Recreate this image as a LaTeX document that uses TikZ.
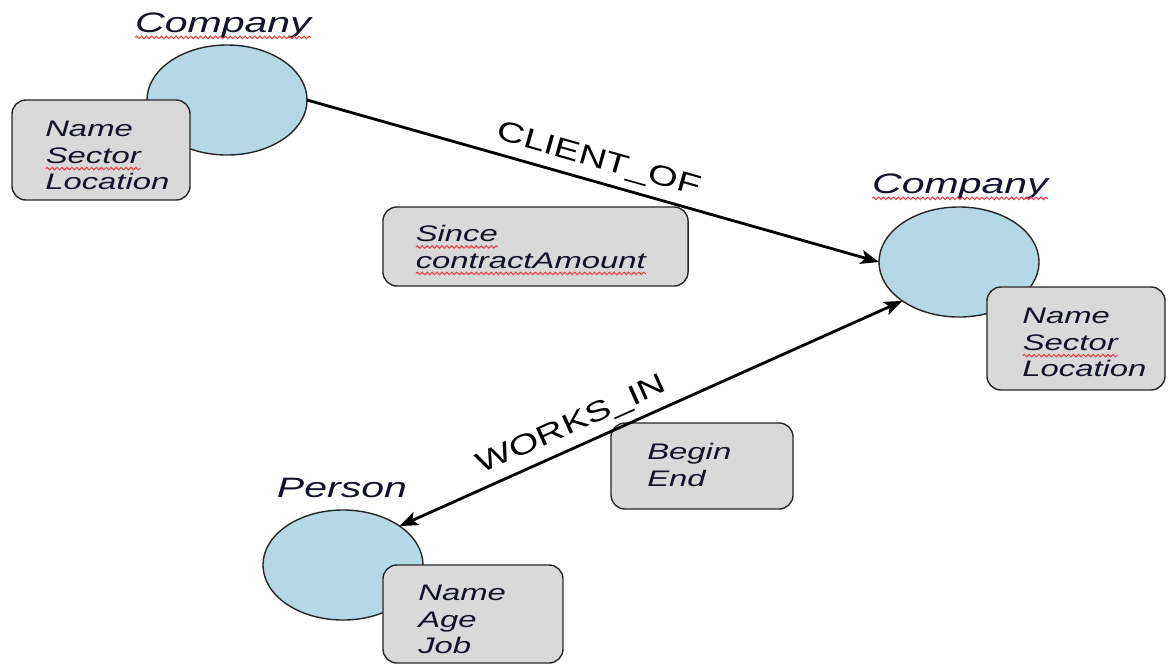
\documentclass[tikz,border=0pt]{standalone}
\usepackage{fontspec}
\setmainfont{Liberation Sans}[FakeStretch=1.46]
\newfontfamily\relfont{Liberation Sans}[FakeStretch=1.36]
\usepackage{tikz}
\usetikzlibrary{arrows.meta, shapes.geometric, positioning, decorations.pathmorphing}

\definecolor{entblue}{HTML}{B5D8E6}
\definecolor{boxgray}{HTML}{D9D9D9}
\definecolor{linegray}{HTML}{262626}
\definecolor{inkblue}{HTML}{121228}
\definecolor{spellred}{HTML}{EE3B3B}

% red wavy spell-check underline
\newcommand\spellwave[1]{\tikz[baseline=(w.base)]{%
    \node[inner sep=0pt, outer sep=0pt] (w) {#1};
    \draw[spellred, line width=0.7pt, decorate, decoration={snake, amplitude=0.9pt, segment length=3.5pt}]
        ([yshift=-3.8pt]w.base west) -- ([yshift=-3.8pt]w.base east);}}

\begin{document}
\begin{tikzpicture}[
    x=0.025cm, y=-0.025cm,
    >={Stealth[length=13pt, width=10pt, inset=3pt]}, % arrow tips
    entity/.style={ellipse, draw=linegray, line width=1pt, fill=entblue,
        minimum width=4cm, minimum height=2.75cm, inner sep=0pt, outer sep=0pt},
    entname/.style={font=\fontsize{20}{24}\selectfont\itshape, text=inkblue, inner sep=0pt, anchor=base},
    attrbox/.style={draw=linegray, line width=1pt, fill=boxgray, rounded corners=0.35cm, inner sep=0pt},
    attrtext/.style={font=\fontsize{16}{18.85}\selectfont\itshape, text=inkblue, align=left,
        inner sep=0pt, anchor=north west},
    rel/.style={->, line width=2pt},
    rellabel/.style={font=\relfont\fontsize{20}{24}\selectfont, sloped, above=5pt, inner sep=0pt}
]
\useasboundingbox (0,0) rectangle (1168,666);

% Entities
\node[entity] (comp1) at (227,100) {};
\node[entity] (comp2) at (959,262) {};
\node[entity] (pers) at (343,565) {};

% Entity names
\node[entname] (comp1name) at (223,32) {\spellwave{Company}};
\node[entname] (comp2name) at (960,193) {\spellwave{Company}};
\node[entname] (persname) at (342,497) {Person};

% Attribute boxes
\node[attrbox, minimum width=4.45cm, minimum height=2.5cm] (comp1box) at (101,150) {};
\node[attrbox, minimum width=4.45cm, minimum height=2.575cm] (comp2box) at (1076,338.5) {};
\node[attrbox, minimum width=7.625cm, minimum height=1.975cm] (clientbox) at (535.5,246.5) {};
\node[attrbox, minimum width=4.55cm, minimum height=2.15cm] (worksbox) at (702,466) {};
\node[attrbox, minimum width=4.5cm, minimum height=2.45cm] (persbox) at (473,614) {};

% Attribute texts
\node[attrtext] (comp1attr) at (45,121) {Name\\\spellwave{Sector}\\Location};
\node[attrtext] (comp2attr) at (1022,308) {Name\\\spellwave{Sector}\\Location};
\node[attrtext] (clientattr) at (415,225) {\spellwave{Since}\\\spellwave{contractAmount}};
\node[attrtext] (worksattr) at (647,443) {Begin\\End};
\node[attrtext] (persattr) at (418,585) {Name\\Age\\Job};

% Relationships
\draw[rel] (comp1.east) -- node[rellabel] (clientlbl) {CLIENT\_OF} (comp2.west);
\draw[rel, <->] (pers.north east) -- node[rellabel, pos=0.36] (workslbl) {WORKS\_IN} (comp2.south west);

\end{tikzpicture}
\end{document}
